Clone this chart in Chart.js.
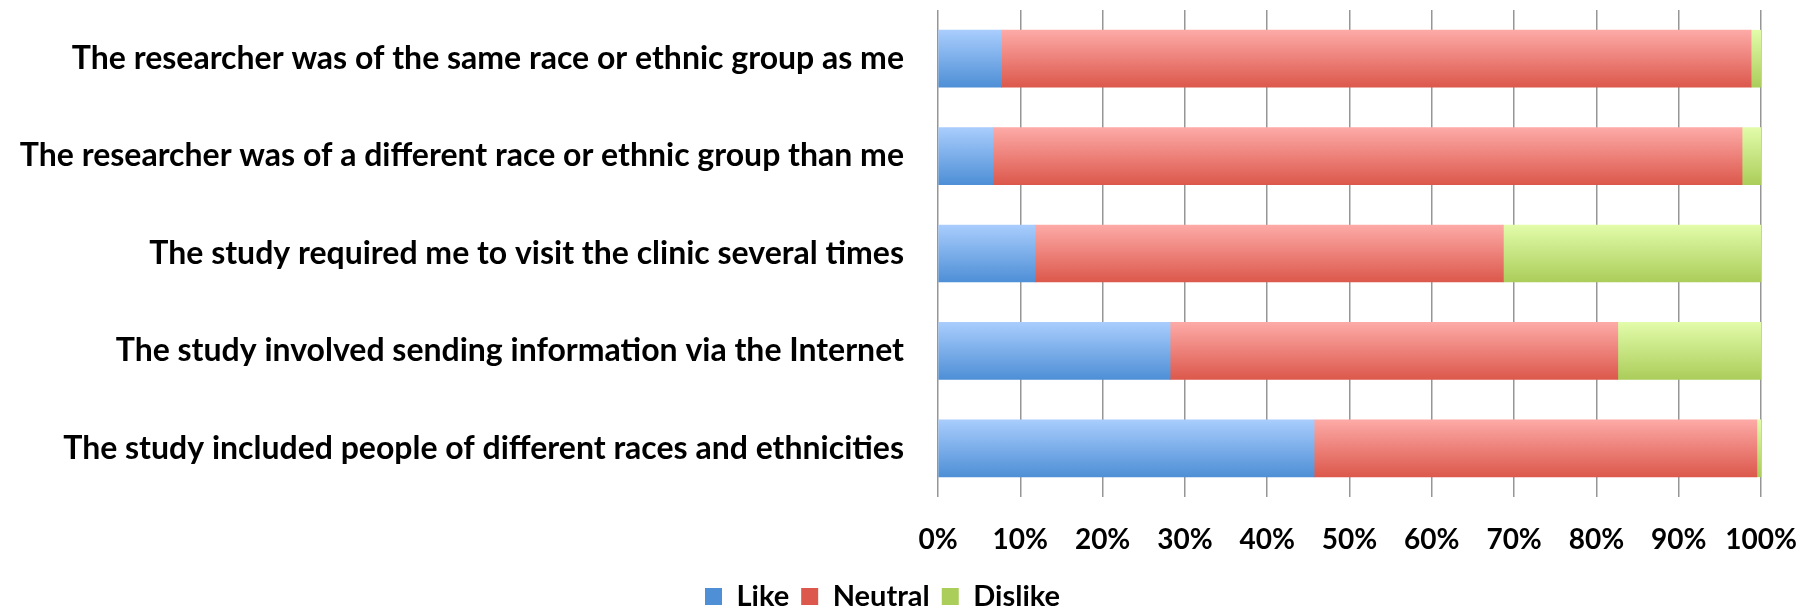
<!DOCTYPE html>
<html>
<head>
<meta charset="utf-8">
<script src="https://cdn.jsdelivr.net/npm/chart.js@4.4.1/dist/chart.umd.min.js"></script>
<style>
  html, body { margin: 0; padding: 0; background: #fff; }
  #wrap { width: 1813px; height: 611px; }
</style>
</head>
<body>
<div id="wrap"><canvas id="likeChart"></canvas></div>
<script>
Chart.defaults.font.family = "Lato, 'Open Sans', sans-serif";
Chart.defaults.font.weight = 'bold';
Chart.defaults.color = '#000';

const statements = [
  'The researcher was of the same race or ethnic group as me',
  'The researcher was of a different race or ethnic group than me',
  'The study required me to visit the clinic several times',
  'The study involved sending information via the Internet',
  'The study included people of different races and ethnicities'
];
const likeValues = [7.7, 6.7, 11.8, 28.2, 45.7];
const neutralValues = [91.1, 91.0, 56.9, 54.4, 53.8];
const dislikeValues = [1.2, 2.3, 31.3, 17.4, 0.5];
const xTicks = [0, 10, 20, 30, 40, 50, 60, 70, 80, 90, 100];

const BAR_THICK = 57;

// vertical gradient per bar, light on top, darker below
function barFill(top, bottom, mid) {
  return (ctx) => {
    const y = ctx.chart.scales.y;
    if (ctx.type !== 'data' || !y) return mid;
    const c = y.getPixelForValue(ctx.dataIndex);
    if (!isFinite(c)) return mid;
    const g = ctx.chart.ctx.createLinearGradient(0, c - BAR_THICK / 2, 0, c + BAR_THICK / 2);
    g.addColorStop(0, top);
    g.addColorStop(1, bottom);
    return g;
  };
}

// nudge the legend a bit left and down, like the original
const legendNudge = {
  id: 'legendNudge',
  afterLayout(chart) {
    const lg = chart.legend;
    lg.left -= 5; lg.right -= 5;
    lg.top += 10; lg.bottom += 10;
  }
};

const ctx = document.getElementById('likeChart').getContext('2d');
new Chart(ctx, {
  type: 'bar',
  data: {
    labels: statements,
    datasets: [
      {
        label: 'Like',
        data: likeValues,
        backgroundColor: barFill('#a9cdfd', '#4e8fd6', '#7aaee9'),
        barThickness: BAR_THICK
      },
      {
        label: 'Neutral',
        data: neutralValues,
        backgroundColor: barFill('#fdaaa7', '#dc584c', '#ec8077'),
        barThickness: BAR_THICK
      },
      {
        label: 'Dislike',
        data: dislikeValues,
        backgroundColor: barFill('#e2fcaa', '#abcd5a', '#c6e37f'),
        barThickness: BAR_THICK
      }
    ]
  },
  options: {
    indexAxis: 'y',
    responsive: true,
    maintainAspectRatio: false,
    animation: false,
    layout: { padding: { top: 10, left: 14, right: 52, bottom: 0 } },
    scales: {
      x: {
        stacked: true,
        min: 0,
        max: 100,
        afterBuildTicks: (scale) => { scale.ticks = xTicks.map(v => ({ value: v })); },
        grid: { color: '#969696', lineWidth: 1.5, drawTicks: false },
        border: { display: false },
        ticks: {
          padding: 26,
          font: { size: 28, weight: 'bold' },
          callback: (v) => v + '%'
        },
        afterFit: (scale) => { scale.height = 63; scale.paddingLeft = 0; scale.paddingRight = 0; }
      },
      y: {
        stacked: true,
        grid: { display: false },
        border: { display: false },
        ticks: {
          padding: 26,
          font: { size: 32, weight: 'bold' }
        },
        afterFit: (scale) => { scale.width = 924; scale.paddingTop = 0; scale.paddingBottom = 0; }
      }
    },
    plugins: {
      legend: {
        position: 'bottom',
        labels: {
          boxWidth: 17,
          boxHeight: 17,
          padding: 12,
          font: { size: 29, weight: 'bold' }
        }
      },
      tooltip: { enabled: false }
    }
  },
  plugins: [legendNudge]
});
</script>
</body>
</html>
